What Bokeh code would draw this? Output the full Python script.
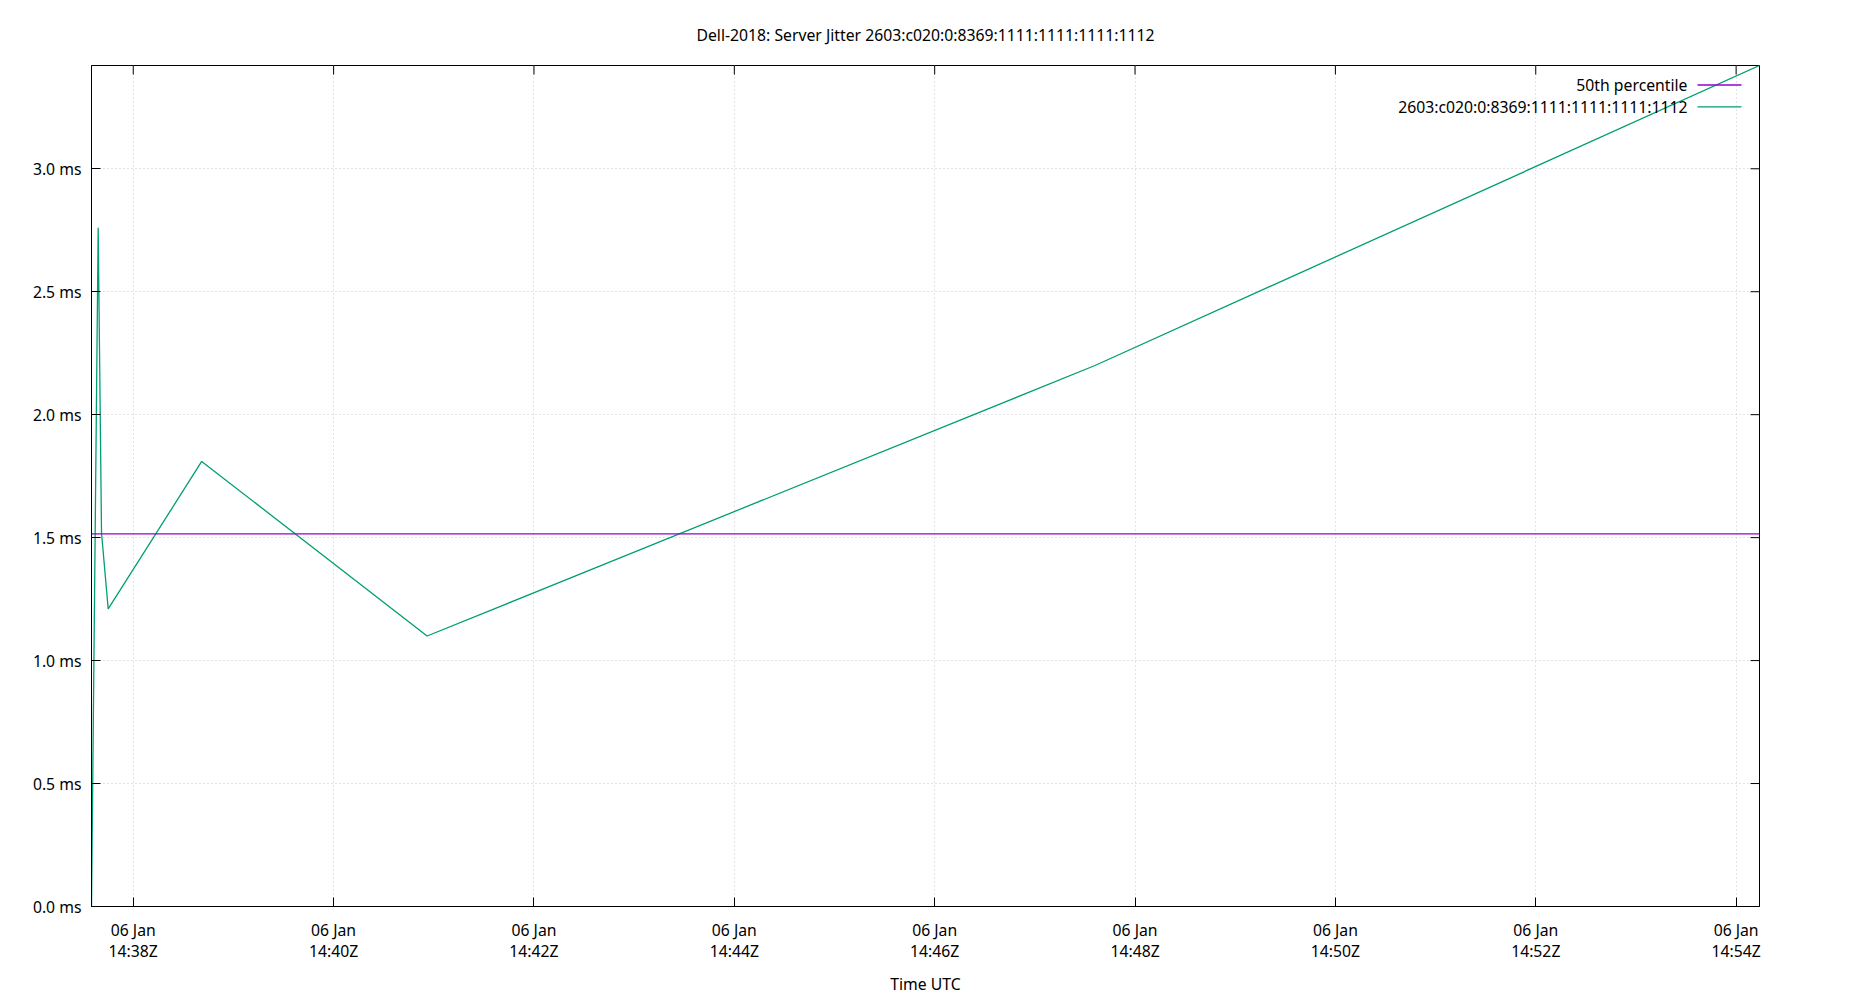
import math
import pandas as pd
from bokeh.plotting import figure
from bokeh.models import (Range1d, FixedTicker, DatetimeTickFormatter, Span, Label, Arrow, Title)
from bokeh.embed import file_html
from bokeh.resources import INLINE

# ---------------- data ----------------
title_text = "Dell-2018: Server Jitter 2603:c020:0:8369:1111:1111:1111:1112"
series_name = "2603:c020:0:8369:1111:1111:1111:1112"
p50_name = "50th percentile"
x_axis_label = "Time UTC"

times = ["2019-01-06 14:37:35", "2019-01-06 14:37:39", "2019-01-06 14:37:41",
         "2019-01-06 14:37:45", "2019-01-06 14:38:41", "2019-01-06 14:40:56",
         "2019-01-06 14:47:36", "2019-01-06 14:54:14"]
jitter_ms = [0.0, 2.76, 1.52, 1.21, 1.81, 1.10, 2.20, 3.42]
p50_ms = 1.515

y_ticks = [0.0, 0.5, 1.0, 1.5, 2.0, 2.5, 3.0]
y_tick_labels = ["0.0 ms", "0.5 ms", "1.0 ms", "1.5 ms", "2.0 ms", "2.5 ms", "3.0 ms"]
x_ticks = ["2019-01-06 14:38", "2019-01-06 14:40", "2019-01-06 14:42", "2019-01-06 14:44",
           "2019-01-06 14:46", "2019-01-06 14:48", "2019-01-06 14:50", "2019-01-06 14:52",
           "2019-01-06 14:54"]

# ---------------- build ----------------
FONT = "Noto Sans"
FS = "15.75px"
GREEN = "#009e73"
PURPLE = "#9400d3"
FW, FH = 1668, 841

t = list(pd.to_datetime(times).to_pydatetime())
xt_dt = list(pd.to_datetime(x_ticks).to_pydatetime())
x_tick_ms = [int(v) // 10**6 for v in pd.to_datetime(x_ticks).astype("int64")]
ymax = max(jitter_ms)

p = figure(frame_width=FW, frame_height=FH, x_axis_type="datetime",
           output_backend="svg", toolbar_location=None,
           x_range=Range1d(t[0], t[-1]), y_range=Range1d(0, ymax),
           min_border_left=91, min_border_right=75, min_border_top=65,
           min_border_bottom=77)
p.background_fill_color = "white"
p.border_fill_color = "white"
p.outline_line_color = "black"
p.outline_line_width = 1

p.title = Title(text=title_text, align="center", text_font=FONT, text_font_size=FS,
                text_font_style="normal", text_color="black", standoff=40)

xt = FixedTicker(ticks=x_tick_ms)
yt = FixedTicker(ticks=y_ticks)
fmt = "%d %b\n%H:%MZ"
xfmt = DatetimeTickFormatter(microseconds=fmt, milliseconds=fmt, seconds=fmt, minsec=fmt,
                             minutes=fmt, hourmin=fmt, hours=fmt, days=fmt, months=fmt,
                             years=fmt, context=None)

xa = p.xaxis[0]
xa.ticker = xt
xa.formatter = xfmt
xa.axis_label = x_axis_label
ya = p.yaxis[0]
ya.ticker = yt
ya.major_label_overrides = {v: s for v, s in zip(y_ticks, y_tick_labels)}

for ax in (xa, ya):
    ax.major_tick_in = 9
    ax.major_tick_out = 0
    ax.minor_tick_in = 0
    ax.minor_tick_out = 0
    ax.axis_line_color = "black"
    ax.major_tick_line_color = "black"
    ax.major_label_text_font = FONT
    ax.major_label_text_font_size = FS
    ax.major_label_text_color = "black"
    ax.axis_label_text_font = FONT
    ax.axis_label_text_font_size = FS
    ax.axis_label_text_font_style = "normal"
    ax.axis_label_text_color = "black"
xa.major_label_text_line_height = 0.96
xa.major_label_standoff = 12
xa.axis_label_standoff = 8
ya.major_label_standoff = 10

p.xgrid.ticker = xt
p.ygrid.ticker = yt
p.grid.grid_line_color = "#c8c8c8"
p.grid.grid_line_dash = "1 3"
p.grid.grid_line_width = 1

# mirrored ticks on top and right edges (half of each dash is clipped by the frame)
p.scatter(x=xt_dt, y=[ymax] * len(xt_dt), marker="dash", size=18, angle=math.pi / 2,
          line_color="black", line_width=1)
p.scatter(x=[t[-1]] * len(y_ticks), y=y_ticks, marker="dash", size=18,
          line_color="black", line_width=1)

# series
p.add_layout(Span(location=p50_ms, dimension="width", line_color=PURPLE, line_width=1.2))
p.line(x=t, y=jitter_ms, line_color=GREEN, line_width=1.3)

# legend (gnuplot style: text right-aligned, sample to the right)
rows = [(p50_name, PURPLE), (series_name, GREEN)]
for i, (name, col) in enumerate(rows):
    yy = FH - 19.5 - i * 21.8
    p.add_layout(Label(x=1596, y=yy, x_units="screen", y_units="screen", text=name,
                       text_align="right", text_baseline="middle", text_font=FONT,
                       text_font_size=FS, text_color="black"))
    p.add_layout(Arrow(x_start=1606, y_start=yy, x_end=1650, y_end=yy,
                       start_units="screen", end_units="screen", end=None,
                       line_color=col, line_width=1.3))

open("out.html", "w").write(file_html(p, INLINE))
